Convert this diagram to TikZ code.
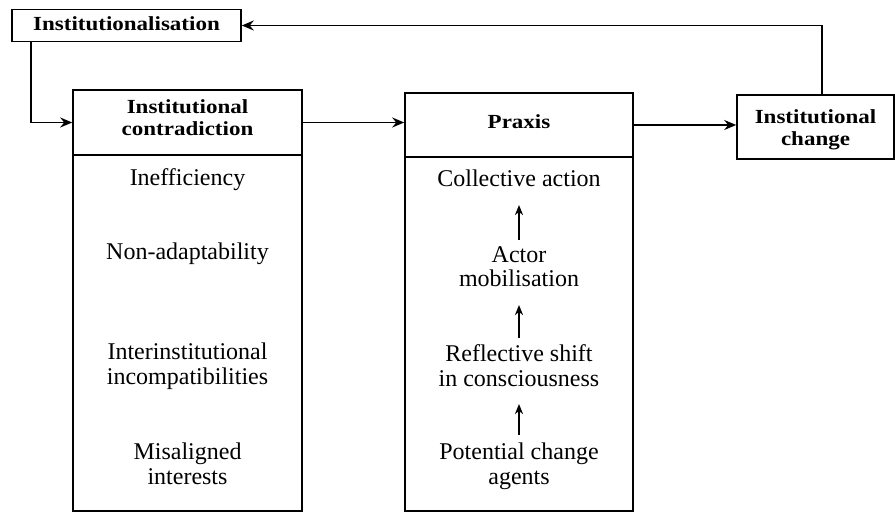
\documentclass[tikz,border=0pt]{standalone}
\usepackage{fontspec}
\setmainfont{Liberation Serif}
\newfontfamily\hdrfont{Liberation Serif}[FakeStretch=1.15]
\usetikzlibrary{arrows.meta}
\begin{document}
\begin{tikzpicture}[x=1pt,y=-1pt,
  box/.style={draw,line width=1.6pt,inner sep=0pt},
  hdr/.style={inner sep=0pt,align=center,anchor=base,
    font=\hdrfont\bfseries\fontsize{20}{22}\selectfont},
  body/.style={inner sep=0pt,align=center,anchor=base,
    font=\fontsize{24}{24.5}\selectfont},
  arr/.style={line width=1.9pt,-{Stealth[length=12pt,width=10pt,inset=4pt]}},
  uparr/.style={line width=1.9pt,-{Stealth[length=10pt,width=8pt,inset=3pt]}}]
\useasboundingbox (0,0) rectangle (895,513);

% boxes
\node[box,minimum width=229pt,minimum height=32pt] (inst) at (126.5,25.5) {};
\node[box,minimum width=229pt,minimum height=65pt] (contra) at (187.5,122.5) {};
\node[box,minimum width=229pt,minimum height=356pt] (contrabody) at (187.5,333) {};
\node[box,minimum width=228pt,minimum height=64pt] (praxis) at (519,125) {};
\node[box,minimum width=228pt,minimum height=354pt] (praxisbody) at (519,334) {};
\node[box,minimum width=157pt,minimum height=64pt] (change) at (815.5,127) {};

% box titles (anchor base = baseline of the last line)
\node[hdr] (instT) at (126.5,31) {Institutionalisation};
\node[hdr] (contraT) at (187.5,136) {Institutional\\contradiction};
\node[hdr] (praxisT) at (519,129) {Praxis};
\node[hdr] (changeT) at (815.5,146) {Institutional\\change};

% forms of contradiction
\node[body] (c1) at (187.5,186) {Inefficiency};
\node[body] (c2) at (187.5,260) {Non-adaptability};
\node[body] (c3) at (187.5,384) {Interinstitutional\\incompatibilities};
\node[body] (c4) at (187.5,484) {Misaligned\\interests};

% stages of praxis
\node[body] (p1) at (519,187) {Collective action};
\node[body] (p2) at (519,287) {Actor\\mobilisation};
\node[body] (p3) at (519,386) {Reflective shift\\in consciousness};
\node[body] (p4) at (519,484) {Potential change\\agents};

\coordinate (u1s) at (519,240); \coordinate (u1e) at (519,205);
\coordinate (u2s) at (519,338); \coordinate (u2e) at (519,305);
\coordinate (u3s) at (519,435); \coordinate (u3e) at (519,404);
\draw[uparr] (u1s) -- (u1e);
\draw[uparr] (u2s) -- (u2e);
\draw[uparr] (u3s) -- (u3e);

% main flow
\draw[arr] ([xshift=20pt]inst.south west) |- (contra.west);
\draw[arr] (contra.east) -- (contra.east -| praxis.west);
\draw[arr] (praxis.east) -- (praxis.east -| change.west);
\draw[arr] ([xshift=6.5pt]change.north) |- (inst.east);
\end{tikzpicture}
\end{document}
